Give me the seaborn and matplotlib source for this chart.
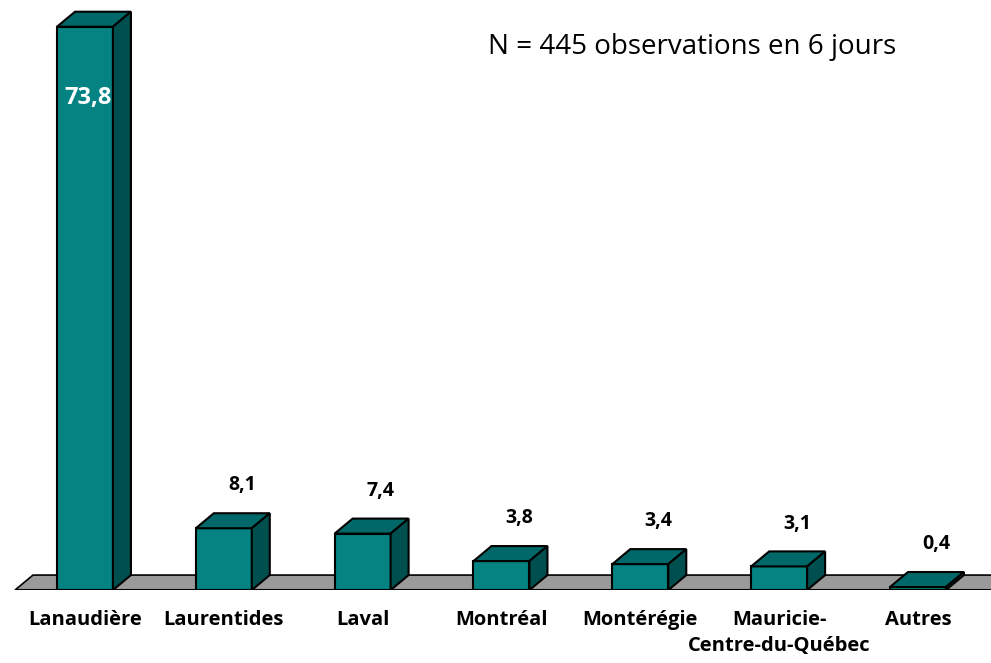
import matplotlib
matplotlib.use("Agg")
import matplotlib.pyplot as plt
import seaborn as sns
import pandas as pd
from matplotlib.patches import Polygon

# Data
regions = ["Lanaudière", "Laurentides", "Laval", "Montréal", "Montérégie",
           "Mauricie-\nCentre-du-Québec", "Autres"]
pourcentages = [73.8, 8.1, 7.4, 3.8, 3.4, 3.1, 0.4]
note = "N = 445 observations en 6 jours"

df = pd.DataFrame({"region": regions, "pct": pourcentages})

# Colours
front = "#058282"
top_col = "#006868"
side_col = "#004f4f"
floor_col = "#9a9a9a"

sns.set_theme(style="white")
plt.rcParams['font.family'] = ['Open Sans', 'DejaVu Sans']

fig = plt.figure(figsize=(9.91, 6.63), dpi=100)
ax = fig.add_axes([0, 0.110, 1, 0.890])

sns.barplot(data=df, x="region", y="pct", color=front, saturation=1,
            width=0.403, edgecolor="black", linewidth=1.5, ax=ax, zorder=3)

ax.set_xlim(-0.612, 6.526)
ax.set_ylim(0, 77.3)

# depth of the fake 3D effect, in pixels -> data units
fig.canvas.draw()
px_x = ax.bbox.width / (ax.get_xlim()[1] - ax.get_xlim()[0])
px_y = ax.bbox.height / (ax.get_ylim()[1] - ax.get_ylim()[0])
dx = 18 / px_x
dy = 15 / px_y

# floor
x_left = -0.504
floor = Polygon([(x_left, 0), (7.5, 0), (7.5 + dx, dy), (x_left + dx, dy)],
                closed=True, facecolor=floor_col, edgecolor="black",
                linewidth=1.2, zorder=1, clip_on=True)
ax.add_patch(floor)
ax.plot([x_left, 7.5], [0, 0], color="black", linewidth=2.2, zorder=2,
        solid_capstyle="butt")

for patch, val in zip(ax.patches, pourcentages):
    if patch is floor:
        continue
    x0 = patch.get_x()
    w = patch.get_width()
    h = patch.get_height()
    top = Polygon([(x0, h), (x0 + w, h), (x0 + w + dx, h + dy), (x0 + dx, h + dy)],
                  closed=True, facecolor=top_col, edgecolor="black",
                  linewidth=1.5, zorder=4)
    side = Polygon([(x0 + w, 0), (x0 + w + dx, dy), (x0 + w + dx, h + dy), (x0 + w, h)],
                   closed=True, facecolor=side_col, edgecolor="black",
                   linewidth=1.5, zorder=4)
    ax.add_patch(top)
    ax.add_patch(side)
    label = f"{val:.1f}".replace(".", ",")
    cx = x0 + w / 2
    if val > 50:
        ax.annotate(label, (cx, h), xytext=(2, -51), textcoords="offset points",
                    ha="center", va="center", color="white", fontsize=17,
                    fontweight="bold", zorder=6)
    else:
        ax.annotate(label, (cx + dx, h + dy), xytext=(0, 20), textcoords="offset points",
                    ha="center", va="center", color="black", fontsize=14,
                    fontweight="bold", zorder=6)

ax.set_xlabel("")
ax.set_ylabel("")
ax.set_yticks([])
ax.tick_params(axis="x", length=0, pad=14, labelsize=14.5, labelcolor="black")
for lbl in ax.get_xticklabels():
    lbl.set_fontweight("bold")
    lbl.set_linespacing(1.45)
sns.despine(ax=ax, left=True, bottom=True)

fig.text(0.698, 0.929, note, ha="center", va="center", fontsize=20, color="black")

fig.savefig("out.png", dpi=100)
